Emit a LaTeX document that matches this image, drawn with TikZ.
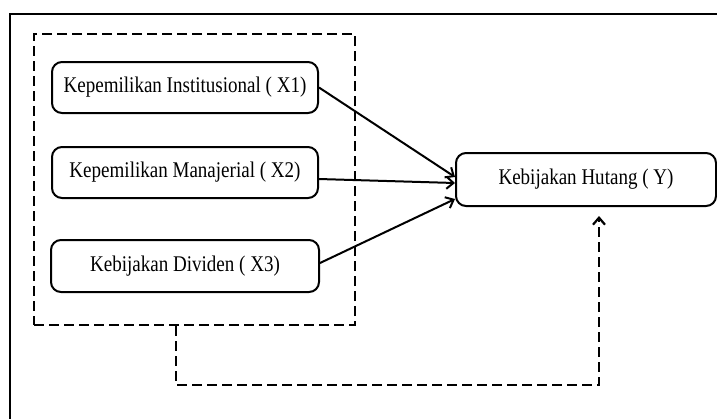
\documentclass[tikz,border=0pt]{standalone}
\usepackage{fontspec}
\setmainfont{Liberation Serif}[FakeStretch=0.85]
\usetikzlibrary{arrows.meta}
\begin{document}
\begin{tikzpicture}[x=0.5pt,y=-0.5pt,
  varbox/.style={draw, line width=1pt, rounded corners=5pt, minimum width=133pt, minimum height=25.5pt, inner sep=0pt, font=\fontsize{11.2pt}{13pt}\selectfont},
  grpbox/.style={draw, line width=1.1pt, dash pattern=on 5pt off 2.5pt, minimum width=160.5pt, minimum height=145.5pt, inner sep=0pt},
  arr/.style={line width=1pt, -{Straight Barb[length=3.5pt,width=6pt]}},
  dasharr/.style={line width=1.1pt, dash pattern=on 5pt off 2.5pt, -{Straight Barb[length=3.5pt,width=6pt]}}]
\useasboundingbox (0,0) rectangle (717,419);
\draw[line width=1.2pt] (717,14) -- (10,14) -- (10,419);
\node[grpbox] (grp) at (194.5,179.5) {};
\node[varbox] (x1) at (185,87.5) {Kepemilikan Institusional ( X1)};
\node[varbox] (x2) at (185,172.5) {Kepemilikan Manajerial ( X2)};
\node[varbox, minimum width=134pt, minimum height=26pt] (x3) at (185,266) {Kebijakan Dividen ( X3)};
\node[varbox, minimum width=130pt, minimum height=26.5pt] (y) at (586,179.5) {Kebijakan Hutang ( Y)};
\draw[arr] (x1.east) -- ([yshift=1.25pt]y.west);
\draw[arr] ([yshift=-3.25pt]x2.east) -- ([yshift=-1.75pt]y.west);
\draw[arr] ([yshift=1.5pt]x3.east) -- ([yshift=-9.75pt]y.west);
\coordinate (c2) at (599,385);
\draw[dasharr] ([xshift=-9.25pt]grp.south) |- (c2) -- ([xshift=6.5pt,yshift=-4.5pt]y.south);
\end{tikzpicture}
\end{document}
